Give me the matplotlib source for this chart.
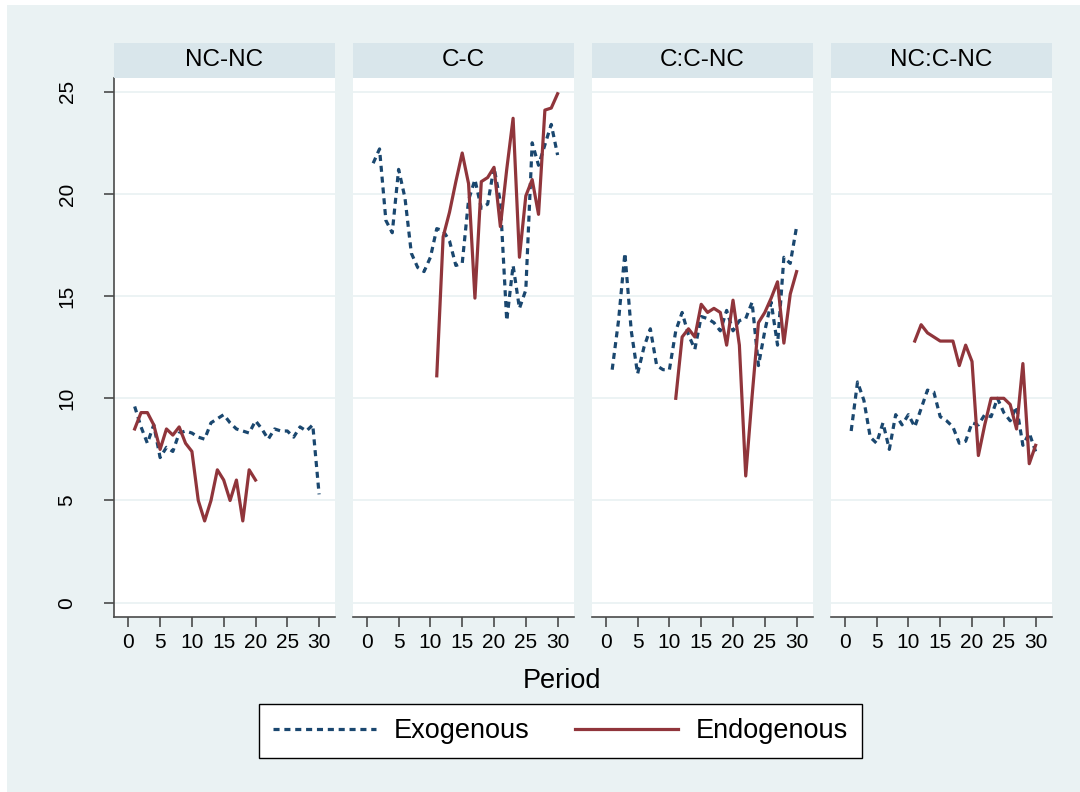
import matplotlib.pyplot as plt
import numpy as np
from matplotlib.lines import Line2D
from matplotlib.patches import Rectangle

plt.rcParams['font.family'] = ['Liberation Sans', 'DejaVu Sans']

panels = ['NC-NC', 'C-C', 'C:C-NC', 'NC:C-NC']
periods = np.arange(1, 31)

exo_ncnc = [9.6, 8.6, 7.8, 8.7, 7.1, 7.6, 7.4, 8.3, 8.4, 8.3, 8.1, 8.0, 8.8, 9.0, 9.2,
            8.8, 8.5, 8.4, 8.3, 8.9, 8.5, 8.0, 8.5, 8.4, 8.4, 8.1, 8.6, 8.4, 8.7, 5.3]
exo_cc = [21.5, 22.2, 18.7, 18.1, 21.2, 19.8, 17.1, 16.4, 16.2, 16.9, 18.3, 18.2, 17.7, 16.5, 16.6,
          19.7, 20.7, 19.3, 19.5, 21.3, 19.6, 13.8, 16.5, 14.4, 15.3, 22.5, 21.4, 22.4, 23.4, 21.9]
exo_ccnc = [11.4, 13.8, 17.1, 13.3, 11.2, 12.5, 13.4, 11.6, 11.4, 11.4, 13.3, 14.2, 13.1, 12.4, 14.0,
            13.9, 13.7, 13.3, 14.3, 13.3, 13.8, 13.9, 14.7, 11.6, 13.3, 14.7, 12.6, 16.9, 16.6, 18.4]
exo_ncccnc = [8.4, 10.8, 9.9, 8.1, 7.8, 8.8, 7.5, 9.2, 8.7, 9.2, 8.6, 9.5, 10.4, 10.3, 9.1,
              8.9, 8.6, 7.8, 7.9, 8.8, 8.7, 9.2, 9.1, 10.0, 9.3, 8.9, 9.6, 7.7, 8.3, 7.4]

endo_periods_ncnc = np.arange(1, 21)
endo_ncnc = [8.5, 9.3, 9.3, 8.7, 7.5, 8.5, 8.2, 8.6, 7.8, 7.4, 5.0, 4.0, 5.0, 6.5, 6.0,
             5.0, 6.0, 4.0, 6.5, 6.0]
endo_periods = np.arange(11, 31)
endo_cc = [11.1, 17.9, 19.1, 20.6, 22.0, 20.5, 14.9, 20.6, 20.8, 21.3, 18.4, 21.2, 23.7, 16.9, 19.9,
           20.7, 19.0, 24.1, 24.2, 24.9]
endo_ccnc = [10.0, 13.0, 13.4, 13.0, 14.6, 14.2, 14.4, 14.2, 12.6, 14.8, 12.6, 6.2, 10.1, 13.7, 14.2,
             14.9, 15.7, 12.7, 15.1, 16.2]
endo_ncccnc = [12.8, 13.6, 13.2, 13.0, 12.8, 12.8, 12.8, 11.6, 12.6, 11.8, 7.2, 8.7, 10.0, 10.0, 10.0,
               9.7, 8.5, 11.7, 6.8, 7.7]

exo_all = [exo_ncnc, exo_cc, exo_ccnc, exo_ncccnc]
endo_all = [(endo_periods_ncnc, endo_ncnc), (endo_periods, endo_cc),
            (endo_periods, endo_ccnc), (endo_periods, endo_ncccnc)]

W, H = 1080, 792
bg = '#EAF2F3'
navy = '#1A476F'
maroon = '#90353B'
axis_col = '#4a4a4a'

fig = plt.figure(figsize=(W / 100, H / 100), dpi=100, facecolor=bg)
fig.patches.append(Rectangle((0, 1 - 5 / H), 1, 5 / H, transform=fig.transFigure,
                             facecolor='white', edgecolor='none'))
fig.patches.append(Rectangle((0, 0), 7 / W, 1, transform=fig.transFigure,
                             facecolor='white', edgecolor='none'))


def rect(x0, y0, x1, y1):
    return [x0 / W, 1 - y1 / H, (x1 - x0) / W, (y1 - y0) / H]


lefts = [114, 352.5, 591.5, 830.5]
pw = 221
top, bottom = 78, 616.7
strip_top = 43

for i, name in enumerate(panels):
    x0 = lefts[i]
    ax = fig.add_axes(rect(x0, top, x0 + pw, bottom))
    ax.set_facecolor('white')
    ax.set_xlim(-2.25, -2.25 + pw / 6.36)
    ax.set_ylim(-0.685, 25.67)
    for y in range(0, 30, 5):
        ax.axhline(y, color=bg, lw=1.3, zorder=0)

    ax.plot(periods, exo_all[i], color=navy, lw=2.3, dashes=(1.9, 1.5), zorder=2)
    ep, ev = endo_all[i]
    ax.plot(ep, ev, color=maroon, lw=2.3, zorder=3)

    for s in ['top', 'right']:
        ax.spines[s].set_visible(False)
    ax.spines['bottom'].set_color(axis_col)
    ax.spines['bottom'].set_linewidth(1.2)
    ax.set_xticks(range(0, 31, 5))
    ax.tick_params(axis='x', length=7, width=1.2, color=axis_col, labelsize=15, pad=5)
    if i == 0:
        ax.spines['left'].set_color(axis_col)
        ax.spines['left'].set_linewidth(1.2)
        ax.set_yticks(range(0, 30, 5))
        ax.tick_params(axis='y', length=7, width=1.2, color=axis_col, labelsize=15, pad=20)
        for lab in ax.get_yticklabels():
            lab.set_rotation(90)
            lab.set_va('center')
    else:
        ax.spines['left'].set_visible(False)
        ax.set_yticks([])

    sax = fig.add_axes(rect(x0, strip_top, x0 + pw, top))
    sax.set_facecolor('#D9E6EB')
    sax.set_xticks([])
    sax.set_yticks([])
    for s in sax.spines.values():
        s.set_visible(False)
    sax.text(0.5, 0.5, name, ha='center', va='center', fontsize=17.5, transform=sax.transAxes)

fig.text(562 / W, 1 - 681 / H, 'Period', ha='center', va='center', fontsize=19.5)

handles = [Line2D([], [], color=navy, lw=2.3, dashes=(1.9, 1.5)),
           Line2D([], [], color=maroon, lw=2.3)]
leg = fig.legend(handles, ['Exogenous', 'Endogenous'], ncol=2, loc='center',
                 bbox_to_anchor=(560.5 / W, 1 - 731 / H), fontsize=19.5,
                 frameon=True, fancybox=False, edgecolor='black', facecolor='white',
                 framealpha=1, handlelength=3.8, handletextpad=0.65, columnspacing=1.7,
                 borderpad=0.5)
leg.get_frame().set_linewidth(1.0)

fig.savefig('out.png', dpi=100, facecolor=fig.get_facecolor())
